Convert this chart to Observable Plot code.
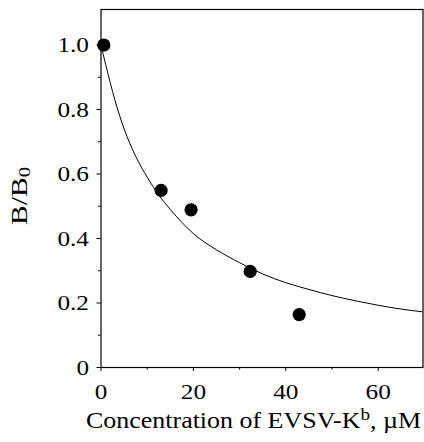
<!DOCTYPE html>
<html>
<head>
<meta charset="utf-8">
<script src="https://cdn.jsdelivr.net/npm/d3@7"></script>
<script src="https://cdn.jsdelivr.net/npm/@observablehq/plot@0.6"></script>
<style>
  html, body { margin: 0; padding: 0; background: white; }
  svg { display: block; }
</style>
</head>
<body>
<div id="chart"></div>
<script>
// Measured points (concentration in µM, B/B0)
const pointX = [0.6, 13.0, 19.5, 32.3, 42.9];
const pointY = [1.0, 0.549, 0.489, 0.298, 0.164];

// Fitted curve
const curveX = [0, 1, 3, 5, 7.5, 10, 12.5, 15, 17.5, 20, 25, 30, 35, 40, 45, 50, 55, 60, 65, 70];
const curveY = [1.0, 0.94, 0.83, 0.74, 0.655, 0.59, 0.535, 0.49, 0.45, 0.415, 0.365, 0.325, 0.29, 0.263, 0.242, 0.223, 0.207, 0.193, 0.181, 0.172];

// Ticks
const xTicks = [0, 20, 40, 60];
const xMinorTicks = [10, 30, 50];
const yTicks = [0, 0.2, 0.4, 0.6, 0.8, 1.0];
const yMinorTicks = [0.1, 0.3, 0.5, 0.7, 0.9];

const points = pointX.map((x, i) => ({x, y: pointY[i]}));
const curve = curveX.map((x, i) => ({x, y: curveY[i]}));

const font = "Liberation Serif, Times New Roman, serif";

const plot = Plot.plot({
  width: 424,
  height: 442,
  marginLeft: 100.5,
  marginRight: 1.5,
  marginTop: 9,
  marginBottom: 75,
  style: {fontFamily: font, fontSize: "22px", background: "white", color: "black", overflow: "visible"},
  x: {domain: [0, 69.7]},
  y: {domain: [0, 1.11]},
  marks: [
    Plot.frame({stroke: "black", strokeWidth: 1.2}),
    Plot.axisX({ticks: xTicks, tickSize: 4, tickPadding: 12, label: null, fontSize: 22, tickFormat: d => String(d)}),
    Plot.axisX({ticks: xMinorTicks, tickSize: 2.5, text: null, label: null}),
    Plot.axisY({ticks: yTicks, tickSize: 4, tickPadding: 8, label: null, fontSize: 22,
      tickFormat: d => d === 0 ? "0" : d.toFixed(1)}),
    Plot.axisY({ticks: yMinorTicks, tickSize: 2.5, text: null, label: null}),
    Plot.line(curve, {x: "x", y: "y", stroke: "black", strokeWidth: 1, curve: "monotone-x", clip: true}),
    Plot.dot(points, {x: "x", y: "y", r: 6.6, fill: "black", stroke: "none"})
  ]
});

document.getElementById("chart").appendChild(plot);

const svg = d3.select(plot);

// widen tick labels to match the reference type width
svg.selectAll("g[aria-label='x-axis tick label'] text, g[aria-label='y-axis tick label'] text").each(function() {
  const len = this.getComputedTextLength();
  this.setAttribute("textLength", (len * 1.15).toFixed(1));
  this.setAttribute("lengthAdjust", "spacingAndGlyphs");
});

// Y axis label: B/B0 with subscript
const yl = svg.append("text")
  .attr("transform", "translate(27,225) rotate(-90)")
  .attr("text-anchor", "start")
  .attr("font-family", font)
  .attr("font-size", 23)
  .attr("fill", "#000");
yl.append("tspan").text("B/B");
yl.append("tspan").attr("dy", 3).attr("font-size", 16).text("0");
yl.attr("textLength", 58).attr("lengthAdjust", "spacingAndGlyphs");

// X axis label with superscript
const xl = svg.append("text")
  .attr("x", 86)
  .attr("y", 428)
  .attr("text-anchor", "start")
  .attr("font-family", font)
  .attr("font-size", 23)
  .attr("fill", "#000");
xl.append("tspan").text("Concentration of EVSV-K");
xl.append("tspan").attr("dy", -8).attr("font-size", 17).text("b");
xl.append("tspan").attr("dy", 8).text(", \u00B5M");
xl.attr("textLength", 335).attr("lengthAdjust", "spacingAndGlyphs");
</script>
</body>
</html>
